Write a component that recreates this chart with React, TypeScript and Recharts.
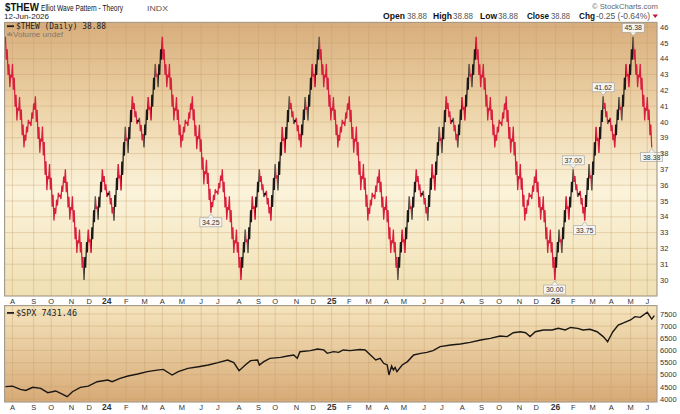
import React from 'react';
import { LineChart, Line, XAxis, YAxis, CartesianGrid, ReferenceDot } from 'recharts';

// ---- time axis (trading-day index) ----
const MONTH_TICK_DAYS = [8, 32, 52, 75, 95, 115, 137, 158, 178, 200, 222, 241, 265, 287, 306, 330, 349, 370, 390, 412, 432, 452, 475, 495, 518, 540, 560, 583, 602, 624, 644, 666, 687, 709, 728];
const MONTH_TICK_LABELS = ['A', 'S', 'O', 'N', 'D', '24', 'F', 'M', 'A', 'M', 'J', 'J', 'A', 'S', 'O', 'N', 'D', '25', 'F', 'M', 'A', 'M', 'J', 'J', 'A', 'S', 'O', 'N', 'D', '26', 'F', 'M', 'A', 'M', 'J'];

// ---- $THEW daily closes, one array per half-cycle (89 trading days each) ----
const THEW_DOWN = [
  45.38, 43.93, 44.6, 42.97, 43.64, 42.19, 42.99, 42.81, 43.67, 42.04, 42.8, 40.96, 41.72, 40.09, 40.89, 40.71, 41.57, 40.12, 40.79, 39.16, 39.83, 38.38,
  39.18, 38.81, 39.7, 39.33, 40.13, 39.92, 39.97, 39.74, 40.6, 40.2, 41.17, 40.77, 41.62,
  40.0, 40.76, 38.92, 39.68, 38.05, 38.95, 38.75, 39.71, 37.88, 38.73, 36.66, 37.51, 35.68, 36.58, 36.38, 37.34, 35.71, 36.47, 34.63, 35.39, 33.76,
  34.56, 34.19, 35.08, 34.71, 35.51, 35.3, 35.35, 35.12, 35.97, 35.58, 36.54, 36.14, 37.0,
  35.55, 36.22, 34.59, 35.26, 33.81, 34.61, 34.43, 35.29, 33.66, 34.42, 32.58, 33.34, 31.71, 32.51, 32.33, 33.19, 31.74, 32.41, 30.78, 31.45, 30.0,
];
const THEW_UP = [
  30.0, 31.45, 30.78, 32.41, 31.74, 33.19, 32.39, 32.57, 31.71, 33.34, 32.58, 34.42, 33.66, 35.29, 34.49, 34.67, 33.81, 35.26, 34.59, 36.22, 35.55, 37.0,
  36.2, 36.57, 35.68, 36.05, 35.25, 35.46, 35.41, 35.64, 34.78, 35.18, 34.21, 34.61, 33.75,
  35.38, 34.62, 36.46, 35.7, 37.33, 36.43, 36.63, 35.67, 37.5, 36.65, 38.72, 37.87, 39.7, 38.8, 39.0, 38.04, 39.67, 38.91, 40.75, 39.99, 41.62,
  40.82, 41.19, 40.3, 40.67, 39.87, 40.08, 40.03, 40.26, 39.41, 39.8, 38.84, 39.24, 38.38,
  39.83, 39.16, 40.79, 40.12, 41.57, 40.77, 40.95, 40.09, 41.72, 40.96, 42.8, 42.04, 43.67, 42.87, 43.05, 42.19, 43.64, 42.97, 44.6, 43.93, 45.38,
];
const THEW_DOWN_2024 = [
  45.38, 43.93, 44.6, 42.97, 43.64, 42.19, 42.99, 42.81, 43.67, 42.04, 42.8, 40.96, 41.72, 40.09, 40.89, 40.71, 41.57, 40.12, 40.79, 39.16, 39.83, 38.38,
  39.18, 38.81, 39.7, 39.33, 40.13, 39.92, 39.97, 39.74, 40.6, 40.2, 41.17, 40.77, 41.62,
  40.1, 40.8, 39.09, 39.79, 38.27, 39.11, 38.92, 39.82, 38.11, 38.9, 36.97, 37.77, 36.05, 36.89, 36.7, 37.6, 36.08, 36.78, 35.07, 35.77, 34.25,
  34.93, 34.61, 35.38, 35.06, 35.74, 35.56, 35.6, 35.41, 36.13, 35.8, 36.61, 36.28, 37.0,
  35.55, 36.22, 34.59, 35.26, 33.81, 34.61, 34.43, 35.29, 33.66, 34.42, 32.58, 33.34, 31.71, 32.51, 32.33, 33.19, 31.74, 32.41, 30.78, 31.45, 30.0,
];
const THEW_DOWN_2026 = [45.38, 43.93, 44.6, 42.97, 43.64, 42.19, 42.99, 42.81, 43.67, 42.04, 42.8, 40.96, 41.72, 40.09, 40.89, 40.71, 41.57, 40.12, 40.79, 39.16, 39.83, 38.38];
const HALF_CYCLE_START_DAYS = [0, 89, 178, 267, 356, 445, 534, 623, 712];
const THEW_HALVES = [THEW_DOWN, THEW_UP, THEW_DOWN_2024, THEW_UP, THEW_DOWN, THEW_UP, THEW_DOWN, THEW_UP, THEW_DOWN_2026];
// day offsets (within a half-cycle) where the small sub-waves turn
const SUBWAVE_TURN_OFFSETS = [0, 5, 8, 13, 16, 21, 26, 29, 34, 39, 42, 47, 50, 55, 60, 63, 68, 73, 76, 81, 84, 89];
const THEW_TICKS = [30, 31, 32, 33, 34, 35, 36, 37, 38, 39, 40, 41, 42, 43, 44, 45, 46];

const PRICE_LABEL_DAYS = [712, 678, 644, 657, 623, 233, 733];
const PRICE_LABEL_VALUES = [45.38, 41.62, 37.0, 33.75, 30.0, 34.25, 38.38];
const PRICE_LABEL_TEXTS = ['45.38', '41.62', '37.00', '33.75', '30.00', '34.25', '38.38'];
const PRICE_LABEL_BELOW = [false, false, false, true, true, true, true];

// ---- $SPX ----
const SPX_DAYS = [0, 8, 17, 23, 31, 40, 48, 57, 65, 70, 76, 85, 94, 104, 116, 121, 130, 139, 150, 161, 172, 179, 189, 196, 207, 219, 230, 241, 252, 259, 265, 272, 278, 286, 288, 293, 300, 312, 320, 327, 331, 334, 346, 354, 361, 365, 372, 378, 383, 391, 402, 408, 414, 420, 425, 429, 433, 435, 438, 440, 442, 444, 450, 456, 463, 471, 478, 485, 493, 505, 516, 527, 539, 550, 561, 569, 576, 584, 590, 595, 601, 610, 620, 627, 635, 641, 649, 655, 663, 671, 678, 683, 685, 689, 695, 701, 709, 714, 720, 728, 733, 736];
const SPX_VALUES = [4507, 4530, 4398, 4350, 4480, 4440, 4260, 4330, 4193, 4095, 4300, 4480, 4530, 4712, 4782, 4712, 4850, 4947, 5029, 5125, 5190, 5220, 4988, 5125, 5260, 5330, 5400, 5495, 5606, 5495, 5166, 5400, 5580, 5606, 5400, 5540, 5675, 5715, 5770, 5810, 5675, 5948, 5990, 6059, 6020, 5880, 5950, 5920, 6017, 5990, 6040, 6017, 5812, 5606, 5675, 5470, 5400, 4988, 5360, 5194, 5300, 5125, 5400, 5540, 5812, 5880, 5920, 5990, 6154, 6222, 6265, 6333, 6430, 6497, 6594, 6568, 6730, 6770, 6730, 6568, 6770, 6841, 6841, 6910, 6841, 6945, 6910, 6841, 6870, 6770, 6568, 6360, 6500, 6770, 7047, 7130, 7253, 7390, 7360, 7570, 7290, 7431];
const SPX_TICKS = [4000, 4500, 5000, 5500, 6000, 6500, 7000, 7500];

// ---- derived tables ----
const thewData: { d: number; v: number }[] = [];
THEW_HALVES.forEach((half, h) => {
  half.forEach((v, i) => {
    if (h > 0 && i === 0) return;
    thewData.push({ d: HALF_CYCLE_START_DAYS[h] + i, v });
  });
});
const spxData = SPX_DAYS.map((d, i) => ({ d, s: SPX_VALUES[i] }));

const UP_COLOR = '#1c1a18';
const DOWN_COLOR = '#d81f3d';
const FONT = 'Liberation Sans, Arial, sans-serif';
const X_DOMAIN = [-0.5, 739];

function thewStops() {
  const d0 = thewData[0].d;
  const dN = thewData[thewData.length - 1].d;
  const spans: { from: number; to: number; color: string }[] = [];
  THEW_HALVES.forEach((half, h) => {
    const start = HALF_CYCLE_START_DAYS[h];
    const rising = half[half.length - 1] > half[0];
    for (let k = 0; k < SUBWAVE_TURN_OFFSETS.length - 1; k++) {
      const a = SUBWAVE_TURN_OFFSETS[k];
      const b = SUBWAVE_TURN_OFFSETS[k + 1];
      if (b >= half.length) break;
      const up = half[b] > half[a];
      const color = rising && up ? UP_COLOR : DOWN_COLOR;
      const last = spans[spans.length - 1];
      if (last && last.color === color) last.to = start + b;
      else spans.push({ from: start + a, to: start + b, color });
    }
  });
  const out: React.ReactNode[] = [];
  spans.forEach((s, i) => {
    out.push(<stop key={'a' + i} offset={(s.from - d0) / (dN - d0)} stopColor={s.color} />);
    out.push(<stop key={'b' + i} offset={(s.to - d0) / (dN - d0)} stopColor={s.color} />);
  });
  return out;
}

function MonthTick(props: any) {
  const { x, y, payload } = props;
  const idx = MONTH_TICK_DAYS.indexOf(payload.value);
  const label = idx >= 0 ? MONTH_TICK_LABELS[idx] : '';
  const isYear = /\d/.test(label);
  return (
    <text x={x} y={y + 8} textAnchor="middle" fontSize={isYear ? 8.5 : 7.5} fontWeight={isYear ? 700 : 400} fill="#333" fontFamily={FONT}>
      {label}
    </text>
  );
}

function PriceTick(props: any) {
  const { x, y, payload } = props;
  return (
    <text x={x} y={y + 2.7} textAnchor="start" fontSize={7.5} fill="#333" fontFamily={FONT}>
      {payload.value}
    </text>
  );
}

function PriceTag(props: any) {
  const { cx, cy, text, below } = props;
  if (cx == null || cy == null) return null;
  const w = 22;
  const h = 9;
  const top = below ? cy + 5 : cy - 4.5 - h;
  const baseY = below ? top : top + h;
  const tipY = below ? cy + 1 : cy - 1;
  return (
    <g>
      <rect x={cx - w / 2} y={top} width={w} height={h} fill="#f6f5f0" stroke="#9c9c9c" strokeWidth={0.6} />
      <polygon points={`${cx - 3},${baseY} ${cx + 3},${baseY} ${cx},${tipY}`} fill="#f6f5f0" stroke="none" />
      <polyline points={`${cx - 3},${baseY} ${cx},${tipY} ${cx + 3},${baseY}`} fill="none" stroke="#9c9c9c" strokeWidth={0.6} />
      <text x={cx} y={top + 7} textAnchor="middle" fontSize={7} fill="#333" fontFamily={FONT}>
        {text}
      </text>
    </g>
  );
}

function HeaderText(props: any) {
  const { x, y, size, width, bold, fill, children } = props;
  return (
    <text x={x} y={y} fontSize={size} fontWeight={bold ? 700 : 400} fill={fill || '#111'} fontFamily={FONT} textLength={width} lengthAdjust="spacingAndGlyphs">
      {children}
    </text>
  );
}

export default function App() {
  return (
    <div style={{ position: 'absolute', left: 0, top: 0, width: 680, height: 414, background: '#fff', overflow: 'hidden', fontFamily: FONT }}>
      <div style={{ position: 'absolute', left: 0, top: 0 }}>
        <LineChart width={680} height={310} data={thewData} margin={{ top: 22, right: 0, bottom: 0, left: 5 }}>
          <defs>
            <linearGradient id="thewBg" x1="0" y1="0" x2="0" y2="1">
              <stop offset="0" stopColor="#d8ad7c" />
              <stop offset="0.3" stopColor="#ecd2a6" />
              <stop offset="0.62" stopColor="#fbf3da" />
              <stop offset="1" stopColor="#f0dfb2" />
            </linearGradient>
            <linearGradient id="thewStroke" x1="0" y1="0" x2="1" y2="0">
              {thewStops()}
            </linearGradient>
          </defs>
          <CartesianGrid stroke="#c29a68" strokeOpacity={0.35} fill="url(#thewBg)" fillOpacity={1} />
          <XAxis dataKey="d" type="number" domain={X_DOMAIN} ticks={MONTH_TICK_DAYS} interval={0} height={14} axisLine={false} tickLine={false} tickSize={0} tickMargin={0} tick={(p: any) => <MonthTick {...p} />} />
          <YAxis orientation="right" type="number" domain={[28.99, 46.32]} ticks={THEW_TICKS} interval={0} width={23} axisLine={false} tickLine={false} tickSize={0} tickMargin={3} tick={(p: any) => <PriceTick {...p} />} />
          <Line dataKey="v" type="linear" stroke="url(#thewStroke)" strokeWidth={1.25} strokeLinejoin="miter" dot={false} activeDot={false} isAnimationActive={false} />
          {PRICE_LABEL_DAYS.map((d, i) => (
            <ReferenceDot
              key={'lbl' + i}
              x={d}
              y={PRICE_LABEL_VALUES[i]}
              r={0}
              ifOverflow="visible"
              shape={(p: any) => <PriceTag cx={p.cx} cy={p.cy} text={PRICE_LABEL_TEXTS[i]} below={PRICE_LABEL_BELOW[i]} />}
            />
          ))}
        </LineChart>
      </div>
      <div style={{ position: 'absolute', left: 0, top: 306 }}>
        <LineChart width={680} height={110} data={spxData} margin={{ top: 0, right: 0, bottom: 0, left: 5 }}>
          <defs>
            <linearGradient id="spxBg" x1="0" y1="0" x2="0" y2="1">
              <stop offset="0" stopColor="#f5e4bd" />
              <stop offset="1" stopColor="#d7aa76" />
            </linearGradient>
          </defs>
          <CartesianGrid stroke="#c29a68" strokeOpacity={0.35} fill="url(#spxBg)" fillOpacity={1} />
          <XAxis dataKey="d" type="number" domain={X_DOMAIN} ticks={MONTH_TICK_DAYS} interval={0} height={14} axisLine={false} tickLine={false} tickSize={0} tickMargin={0} tick={(p: any) => <MonthTick {...p} />} />
          <YAxis orientation="right" type="number" domain={[3876, 7829]} ticks={SPX_TICKS} interval={0} width={23} axisLine={false} tickLine={false} tickSize={0} tickMargin={3} tick={(p: any) => <PriceTick {...p} />} />
          <Line dataKey="s" type="linear" stroke="#1a1714" strokeWidth={1.4} dot={false} activeDot={false} isAnimationActive={false} />
        </LineChart>
      </div>
      <svg width={680} height={414} style={{ position: 'absolute', left: 0, top: 0, pointerEvents: 'none' }}>
        <rect x={4.5} y={22.5} width={652.5} height={273.5} fill="none" stroke="#a39b8e" strokeWidth={1} />
        <rect x={4.5} y={305.5} width={652.5} height={96.5} fill="none" stroke="#a39b8e" strokeWidth={1} />
        <HeaderText x={5} y={10.5} size={10.5} width={34} bold>$THEW</HeaderText>
        <HeaderText x={41} y={10.5} size={8.5} width={82}>Elliot Wave Pattern - Theory</HeaderText>
        <HeaderText x={147} y={10.5} size={7} width={21} fill="#555">INDX</HeaderText>
        <HeaderText x={4} y={19} size={8} width={45} fill="#222">12-Jun-2026</HeaderText>
        <HeaderText x={592} y={8.5} size={7.5} width={66} fill="#666">© StockCharts.com</HeaderText>
        <HeaderText x={383} y={18.5} size={8.5} width={22} bold>Open</HeaderText>
        <HeaderText x={407} y={18.5} size={8.5} width={20} fill="#555">38.88</HeaderText>
        <HeaderText x={433} y={18.5} size={8.5} width={19} bold>High</HeaderText>
        <HeaderText x={453} y={18.5} size={8.5} width={20} fill="#555">38.88</HeaderText>
        <HeaderText x={480} y={18.5} size={8.5} width={17} bold>Low</HeaderText>
        <HeaderText x={498} y={18.5} size={8.5} width={20} fill="#555">38.88</HeaderText>
        <HeaderText x={527} y={18.5} size={8.5} width={22} bold>Close</HeaderText>
        <HeaderText x={551} y={18.5} size={8.5} width={19} fill="#555">38.88</HeaderText>
        <HeaderText x={579} y={18.5} size={8.5} width={16} bold>Chg</HeaderText>
        <HeaderText x={596} y={18.5} size={8.5} width={54} fill="#555">-0.25 (-0.64%)</HeaderText>
        <polygon points="652.5,14.5 658,14.5 655.25,18" fill="#c0143c" />
        <rect x={7} y={25.3} width={7} height={1.8} fill="#222" />
        <text x={16} y={29} fontSize={8} fill="#222" fontFamily="DejaVu Sans Mono, monospace" textLength={90} lengthAdjust="spacingAndGlyphs">$THEW (Daily) 38.88</text>
        <rect x={7.5} y={33} width={1.2} height={3} fill="#8d8074" />
        <rect x={9.2} y={32} width={1.2} height={4} fill="#8d8074" />
        <rect x={10.9} y={33.5} width={1.2} height={2.5} fill="#8d8074" />
        <text x={13} y={36.5} fontSize={7.5} fill="#85786b" fontFamily={FONT} textLength={50} lengthAdjust="spacingAndGlyphs">Volume undef</text>
        <rect x={7} y={312} width={7} height={1.8} fill="#222" />
        <text x={16} y={316} fontSize={8} fill="#222" fontFamily="DejaVu Sans Mono, monospace" textLength={61} lengthAdjust="spacingAndGlyphs">$SPX 7431.46</text>
      </svg>
    </div>
  );
}
